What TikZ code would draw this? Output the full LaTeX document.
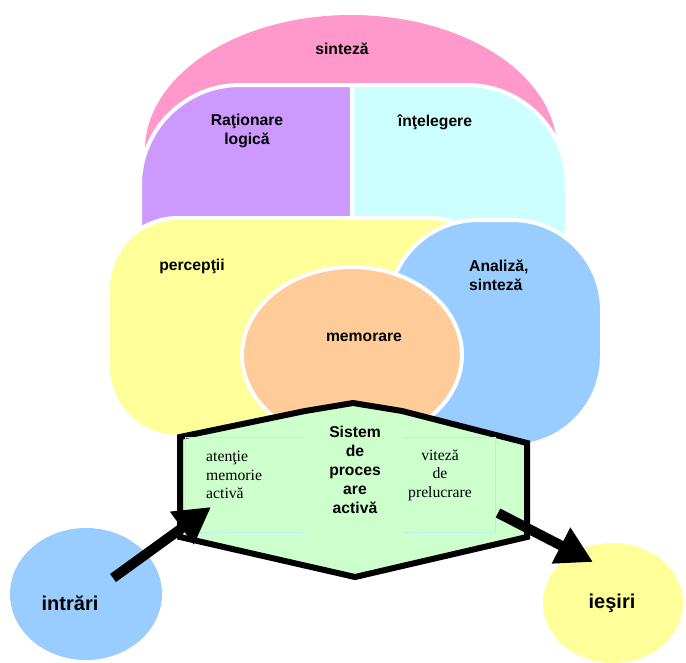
\documentclass[tikz,border=0pt]{standalone}
\usepackage{xcolor}
\usepackage{fontspec}
\setmainfont{Liberation Serif}
\setsansfont{Liberation Sans}
\usepackage{tikz}
\usetikzlibrary{arrows.meta}

\definecolor{sintPink}{HTML}{FF99CC}
\definecolor{ratPurple}{HTML}{CC99FF}
\definecolor{intCyan}{HTML}{CCFFFF}
\definecolor{percYellow}{HTML}{FFFF99}
\definecolor{analBlue}{HTML}{99CCFF}
\definecolor{memOrange}{HTML}{FFCC99}
\definecolor{sysGreen}{HTML}{CCFFCC}
\definecolor{boxLine}{HTML}{B8EEF0}

\begin{document}
\begin{tikzpicture}[x=1pt, y=-1pt]
\tikzset{BlobStyle/.style = {draw=white, line width=4pt}}
\tikzset{LabelStyle/.style = {font=\sffamily\bfseries\fontsize{15.7}{19}\selectfont, align=center, inner sep=0pt}}
\tikzset{EndStyle/.style = {font=\sffamily\bfseries\fontsize{20}{24}\selectfont, inner sep=0pt}}
\tikzset{NoteStyle/.style = {font=\rmfamily\fontsize{15.7}{18.5}\selectfont, inner sep=0pt}}
\tikzset{HexStyle/.style = {fill=sysGreen, draw=black, line width=6pt}}
\tikzset{ArrowStyle/.style = {-{Triangle[length=36pt, width=38pt]}, line width=10pt}}
	\useasboundingbox (0,0) rectangle (686,662);

	\fill[sintPink] (145,150) arc[start angle=180, end angle=360, x radius=206, y radius=135] -- cycle;
	\filldraw[BlobStyle, fill=ratPurple] (352,260) -- (140,260) -- (140,185) arc[start angle=180, end angle=270, radius=100] -- (352,85) -- cycle;
	\filldraw[BlobStyle, fill=intCyan] (352,85) -- (467,85) arc[start angle=270, end angle=360, radius=100] -- (567,260) -- (352,260) -- cycle;
	\filldraw[BlobStyle, fill=percYellow, rounded corners=70pt] (108,437) -- (108,218) -- (500,218) -- (500,437) -- cycle;
	\filldraw[BlobStyle, fill=analBlue, rounded corners=90pt] (388,220) rectangle (602,446);
	\filldraw[BlobStyle, fill=memOrange] (352,355) ellipse [x radius=110, y radius=88];

	\filldraw[HexStyle] (180,437) -- (305,411) -- (353,403) -- (402,411) -- (527,443) -- (527,537) -- (355,577) -- (180,537) -- cycle;
	\draw[boxLine, line width=1pt] (305,437) -- (185,437) -- (185,532) -- (305,532);
	\draw[boxLine, line width=1pt] (405,437) -- (495,437) -- (495,532) -- (405,532);

	\fill[analBlue] (86,594) ellipse [x radius=76, y radius=66];
	\fill[percYellow] (613,603) ellipse [x radius=70, y radius=60];

	\node[LabelStyle] (sinteza) at (342,49) {sinteză};
	\node[LabelStyle] (rationare) at (247,131) {Raţionare\\logică};
	\node[LabelStyle] (intelegere) at (435,122) {înţelegere};
	\node[LabelStyle] (perceptii) at (192,266) {percepţii};
	\node[LabelStyle, align=left, anchor=west] (analiza) at (469,275) {Analiză,\\sinteză};
	\node[LabelStyle] (memorare) at (364,337) {memorare};
	\node[LabelStyle] (sistem) at (355,470) {Sistem\\de\\proces\\are\\activă};
	\node[NoteStyle, align=left, anchor=west] (atentie) at (206,475) {atenţie\\memorie\\activă};
	\node[NoteStyle, align=center] (viteza) at (440,475) {viteză\\de\\prelucrare};
	\node[EndStyle] (intrari) at (70,603) {intrări};
	\node[EndStyle] (iesiri) at (612,603) {ieşiri};

	\coordinate (inStart) at (113,578);
	\coordinate (inTip) at (211,507);
	\coordinate (outStart) at (498,513);
	\coordinate (outTip) at (593,562);
	\draw[ArrowStyle] (inStart) -- (inTip);
	\draw[ArrowStyle] (outStart) -- (outTip);

\end{tikzpicture}
\end{document}
